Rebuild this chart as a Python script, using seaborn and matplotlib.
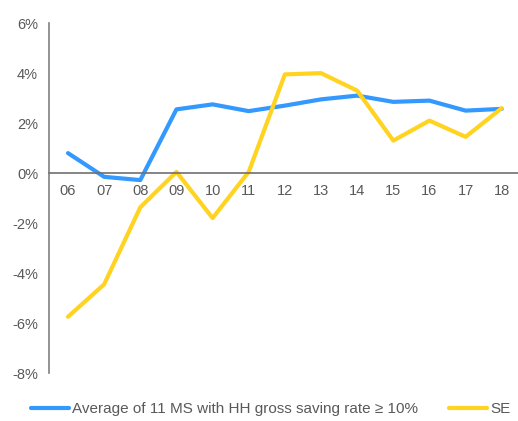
import pandas as pd
import numpy as np
import seaborn as sns
import matplotlib.pyplot as plt

years = ["06", "07", "08", "09", "10", "11", "12", "13", "14", "15", "16", "17", "18"]
avg_ms = [0.8, -0.15, -0.28, 2.55, 2.75, 2.48, 2.7, 2.95, 3.1, 2.85, 2.9, 2.5, 2.57]
se = [-5.75, -4.45, -1.37, 0.05, -1.8, 0.05, 3.95, 4.0, 3.3, 1.3, 2.1, 1.45, 2.6]
series_names = ["Average of 11 MS with HH gross saving rate \u2265 10%", "SE"]
colors = ["#3399FF", "#FFD320"]

df = pd.DataFrame({
    "x": list(range(len(years))) * 2,
    "value": avg_ms + se,
    "series": [series_names[0]] * len(years) + [series_names[1]] * len(years),
})

sns.set_style("white")
plt.rcParams['font.family'] = ['Liberation Sans', 'DejaVu Sans']
text_color = "#595959"

fig = plt.figure(figsize=(5.18, 4.21), dpi=100)
ax = fig.add_axes([0.095, 0.114, 0.905, 0.831])

sns.lineplot(data=df, x="x", y="value", hue="series", palette=colors,
             linewidth=3, ax=ax, legend=True)

ax.set_xlim(-0.52, 12.45)
ax.set_ylim(-8, 6)
ax.set_yticks(range(-8, 7, 2))
ax.set_yticklabels([f"{v}%" for v in range(-8, 7, 2)])
ax.set_xticks(range(len(years)))
ax.set_xticklabels(years)

for s in ["top", "right"]:
    ax.spines[s].set_visible(False)
ax.spines["left"].set_color("#808080")
ax.spines["left"].set_linewidth(1.2)
ax.spines["bottom"].set_position(("data", 0))
ax.spines["bottom"].set_color("#707070")
ax.spines["bottom"].set_linewidth(1.2)
ax.tick_params(axis="both", length=0, labelsize=10.5, colors=text_color, pad=8)
ax.tick_params(axis="x", pad=8)
ax.set_xlabel("")
ax.set_ylabel("")

handles, labels = ax.get_legend_handles_labels()
leg = ax.legend(handles, labels, loc="upper left", bbox_to_anchor=(-0.068, -0.045),
                ncol=2, frameon=False, fontsize=11, handlelength=2.5,
                handletextpad=0.2, columnspacing=2.0)
for t in leg.get_texts():
    t.set_color(text_color)

fig.savefig("out.png", dpi=100)
